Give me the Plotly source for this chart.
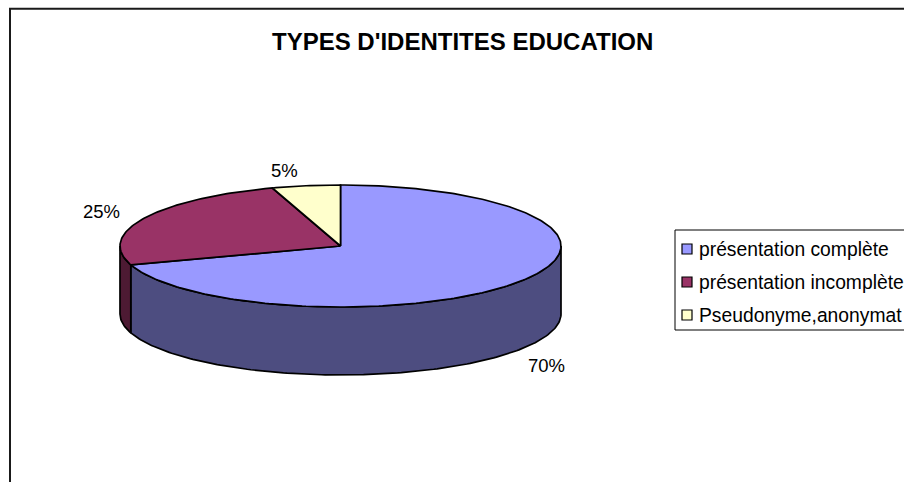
import math
import plotly.graph_objects as go

categories = ["présentation complète", "présentation incomplète", "Pseudonyme,anonymat"]
values = [70, 25, 5]
top_colors = ["#9999FF", "#993366", "#FFFFCC"]
side_colors = ["#4D4D80", "#4D1A33", "#80806A"]
title_text = "TYPES D'IDENTITES EDUCATION"

W, H = 904, 482
CX, CY, RX, RY, DEPTH = 340.5, 246.0, 220.5, 61.0, 68.0
LABEL_OFFSETS = [(28, 84), (-43, -7), (-22, -15)]
FONT = "Liberation Sans, Arial, sans-serif"
STEP = 1.0


def rim(theta, dy=0.0):
    a = math.radians(theta)
    return CX + RX * math.sin(a), CY - RY * math.cos(a) + dy


def arc(a0, a1):
    n = max(2, int(abs(a1 - a0) / STEP) + 1)
    return [a0 + (a1 - a0) * i / (n - 1) for i in range(n)]


total = sum(values)
spans = []
start = 0.0
for v in values:
    end = start + 360.0 * v / total
    spans.append((start, end))
    start = end

fig = go.Figure()

# side walls (only the front half of the cylinder, 90..270 degrees, is visible)
for (a0, a1), color, name in zip(spans, side_colors, categories):
    lo, hi = max(a0, 90.0), min(a1, 270.0)
    if lo >= hi:
        continue
    angles = arc(lo, hi)
    upper = [rim(t) for t in angles]
    lower = [rim(t, DEPTH) for t in reversed(angles)]
    pts = upper + lower + upper[:1]
    fig.add_trace(go.Scatter(
        x=[p[0] for p in pts], y=[p[1] for p in pts],
        mode="lines", fill="toself", fillcolor=color,
        line=dict(color="#000000", width=1.7),
        hoverinfo="skip", showlegend=False,
    ))

# top faces
for (a0, a1), color, name, v in zip(spans, top_colors, categories, values):
    pts = [(CX, CY)] + [rim(t) for t in arc(a0, a1)] + [(CX, CY)]
    fig.add_trace(go.Scatter(
        x=[p[0] for p in pts], y=[p[1] for p in pts],
        mode="lines", fill="toself", fillcolor=color,
        line=dict(color="#000000", width=1.7),
        name=name, text=f"{name}: {v}%", hoverinfo="text", showlegend=False,
    ))

annotations = [dict(
    x=462.5, y=41, xref="x", yref="y", text=f"<b>{title_text}</b>", showarrow=False,
    font=dict(family=FONT, size=24, color="#000000"),
)]

# percentage labels
for (a0, a1), v, (dx, dy) in zip(spans, values, LABEL_OFFSETS):
    px, py = rim((a0 + a1) / 2)
    annotations.append(dict(
        x=px + dx, y=py + dy, xref="x", yref="y", text=f"{v}%", showarrow=False,
        font=dict(family=FONT, size=18.5, color="#000000"),
    ))

# legend
LEG_X, LEG_Y0, LEG_DY = 687, 249, 33
fig.add_trace(go.Scatter(
    x=[LEG_X] * len(categories),
    y=[LEG_Y0 + i * LEG_DY for i in range(len(categories))],
    mode="markers",
    marker=dict(symbol="square", size=10, color=top_colors, line=dict(color="#000000", width=1.2)),
    hoverinfo="skip", showlegend=False,
))
for i, name in enumerate(categories):
    annotations.append(dict(
        x=LEG_X + 9.5, y=LEG_Y0 + i * LEG_DY, xref="x", yref="y", text=name,
        xanchor="left", showarrow=False,
        font=dict(family=FONT, size=19.3, color="#000000"),
    ))

shapes = [
    dict(type="path", path=f"M 10 {H + 5} L 10 8.7 L {W + 5} 8.7",
         line=dict(color="#1a1a1a", width=2), layer="below"),
    dict(type="path", path=f"M {W + 5} 230 L 675 230 L 675 330 L {W + 5} 330",
         line=dict(color="#000000", width=1), layer="below"),
]

fig.update_layout(
    width=W, height=H, margin=dict(l=0, r=0, t=0, b=0),
    paper_bgcolor="#FFFFFF", plot_bgcolor="#FFFFFF", showlegend=False,
    xaxis=dict(range=[0, W], visible=False, fixedrange=True),
    yaxis=dict(range=[H, 0], visible=False, fixedrange=True),
    annotations=annotations, shapes=shapes,
)

fig.write_html("out.html", config=dict(displayModeBar=False),
               post_script="document.body.style.margin='0';document.body.style.overflow='hidden';")
